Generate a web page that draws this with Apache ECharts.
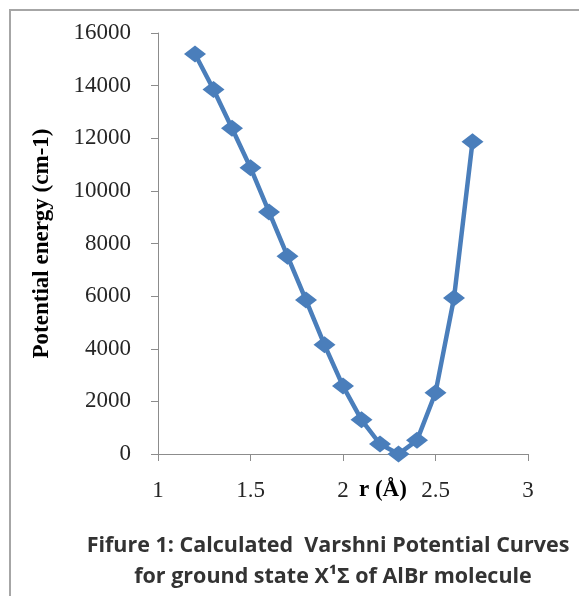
<!DOCTYPE html>
<html><head><meta charset="utf-8">
<script src="https://cdn.jsdelivr.net/npm/echarts@6/dist/echarts.min.js"></script>
<style>html,body{margin:0;padding:0;background:#fff}#c{width:579px;height:596px}</style>
</head><body><div id="c"></div>
<script>
const rValues = [1.2, 1.3, 1.4, 1.5, 1.6, 1.7, 1.8, 1.9, 2.0, 2.1, 2.2, 2.3, 2.4, 2.5, 2.6, 2.7];
const energyValues = [15200, 13850, 12380, 10880, 9200, 7520, 5850, 4150, 2580, 1300, 380, 0, 520, 2330, 5930, 11870];
const yAxisTitle = 'Potential energy (cm-1)';
const xAxisTitle = 'r (Å)';
const captionLines = ['Fifure 1: Calculated  Varshni Potential Curves', 'for ground state X\u00B9\u03A3 of AlBr molecule'];

const serif = '"Liberation Serif", "Times New Roman", serif';
const sans = '"Open Sans", Lato, sans-serif';
const chart = echarts.init(document.getElementById('c'));
chart.setOption({
  animation: false,
  backgroundColor: '#fff',
  grid: { left: 158, right: 51, top: 33, bottom: 142 },
  xAxis: {
    type: 'value', min: 1, max: 3, interval: 0.5,
    axisLine: { show: true, lineStyle: { color: '#8c8c8c', width: 1 } },
    axisTick: { show: true, length: 7, inside: false, lineStyle: { color: '#8c8c8c' } },
    axisLabel: { margin: 25, fontFamily: serif, fontSize: 23, color: '#262626', formatter: v => String(v) },
    splitLine: { show: false }
  },
  yAxis: {
    type: 'value', min: 0, max: 16000, interval: 2000,
    name: yAxisTitle, nameLocation: 'middle', nameGap: 104,
    nameTextStyle: { fontFamily: serif, fontSize: 23, fontWeight: 'bold', color: '#000' },
    axisLine: { show: true, lineStyle: { color: '#8c8c8c', width: 1 } },
    axisTick: { show: true, length: 7, inside: false, lineStyle: { color: '#8c8c8c' } },
    axisLabel: { margin: 27, fontFamily: serif, fontSize: 23, color: '#262626', formatter: v => String(v) },
    splitLine: { show: false }
  },
  graphic: [
    { type: 'rect', shape: { x: 10, y: 10, width: 640, height: 640 }, style: { fill: 'none', stroke: '#a6a6a6', lineWidth: 2 }, silent: true },
    { type: 'text', left: 359, top: 479, style: { text: xAxisTitle, font: 'bold 23px ' + serif, fill: '#000' } },
    { type: 'text', x: 328, y: 546, style: { text: captionLines[0], font: 'bold 21.5px ' + sans, fill: '#333', align: 'center', verticalAlign: 'middle' } },
    { type: 'text', x: 333, y: 577, style: { text: captionLines[1], font: 'bold 21.5px ' + sans, fill: '#333', align: 'center', verticalAlign: 'middle' } }
  ],
  series: [{
    type: 'line',
    data: rValues.map((r, i) => [r, energyValues[i]]),
    symbol: 'diamond', symbolSize: [22, 17],
    lineStyle: { color: '#4a7ebb', width: 4.5 },
    itemStyle: { color: '#4a7ebb' }
  }]
});
</script></body></html>
